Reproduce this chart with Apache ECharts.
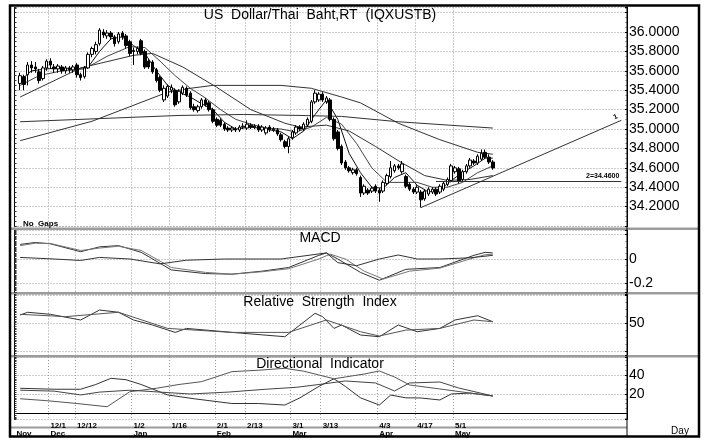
<!DOCTYPE html>
<html>
<head>
<meta charset="utf-8">
<script src="https://cdn.jsdelivr.net/npm/echarts@6/dist/echarts.min.js"></script>
<style>
html, body { margin: 0; padding: 0; background: #fff; }
#chart { width: 707px; height: 442px; }
</style>
</head>
<body>
<div id="chart"></div>
<script>
// trading days (weekdays) from 20 Nov, axis runs on past the last bar
var days = [];
var d = new Date(2006, 10, 20);
while (days.length < 162) {
    if (d.getDay() != 0 && d.getDay() != 6) days.push((d.getMonth() + 1) + '/' + d.getDate());
    d.setDate(d.getDate() + 1);
}
var tickDays = ['12/1', '12/12', '1/2', '1/16', '2/1', '2/13', '3/1', '3/13', '4/3', '4/17', '5/1'];
var monthOf = {'12/1': 'Dec', '1/2': 'Jan', '2/1': 'Feb', '3/1': 'Mar', '4/3': 'Apr', '5/1': 'May'};

// [open, close, low, high]
var ohlc = ['-',
    [35.47, 35.55, 35.40, 35.58], [35.54, 35.46, 35.40, 35.56], [35.56, 35.66, 35.45, 35.69], [35.66, 35.63, 35.58, 35.70],
    [35.64, 35.62, 35.58, 35.69], [35.59, 35.50, 35.47, 35.62], [35.52, 35.63, 35.50, 35.65], [35.63, 35.70, 35.60, 35.72],
    [35.70, 35.66, 35.62, 35.73], [35.64, 35.62, 35.58, 35.67], [35.62, 35.65, 35.58, 35.67], [35.64, 35.60, 35.57, 35.66],
    [35.60, 35.63, 35.57, 35.65], [35.63, 35.61, 35.58, 35.65], [35.61, 35.64, 35.58, 35.66], [35.66, 35.56, 35.53, 35.68],
    [35.56, 35.53, 35.50, 35.58], [35.54, 35.63, 35.52, 35.65], [35.63, 35.77, 35.62, 35.79], [35.77, 35.83, 35.74, 35.85],
    [35.80, 35.87, 35.77, 35.90], [35.88, 36.02, 35.86, 36.04], [36.00, 35.97, 35.94, 36.03], [35.96, 35.99, 35.93, 36.02],
    [35.99, 35.95, 35.92, 36.01], [35.95, 35.88, 35.85, 35.97], [35.90, 35.98, 35.88, 36.00], [35.99, 35.95, 35.92, 36.01],
    [35.96, 35.86, 35.83, 35.98], [35.90, 35.78, 35.75, 35.92], [35.81, 35.80, 35.66, 35.84], [35.80, 35.83, 35.77, 35.85],
    [35.91, 35.78, 35.76, 35.93], [35.80, 35.64, 35.62, 35.82], [35.70, 35.64, 35.62, 35.72], [35.69, 35.59, 35.57, 35.71],
    [35.61, 35.50, 35.48, 35.63], [35.53, 35.40, 35.38, 35.55], [35.30, 35.42, 35.28, 35.45], [35.34, 35.44, 35.32, 35.46],
    [35.40, 35.43, 35.37, 35.46], [35.40, 35.25, 35.23, 35.42], [35.28, 35.39, 35.26, 35.41], [35.37, 35.43, 35.35, 35.45],
    [35.42, 35.35, 35.33, 35.44], [35.37, 35.22, 35.20, 35.39], [35.23, 35.20, 35.18, 35.26], [35.19, 35.23, 35.17, 35.25],
    [35.23, 35.30, 35.21, 35.32], [35.30, 35.25, 35.23, 35.32], [35.27, 35.20, 35.18, 35.29], [35.20, 35.08, 35.06, 35.22],
    [35.10, 35.04, 35.02, 35.12], [35.09, 35.04, 35.02, 35.11], [35.05, 35.00, 34.98, 35.07], [35.01, 34.99, 34.97, 35.03],
    [34.99, 35.01, 34.97, 35.03], [35.00, 34.99, 34.97, 35.02], [34.99, 35.02, 34.97, 35.04], [35.02, 35.03, 35.00, 35.06],
    [35.01, 35.05, 34.99, 35.09], [35.04, 35.02, 35.00, 35.06], [35.02, 35.03, 35.00, 35.05], [35.03, 34.99, 34.97, 35.05],
    [34.99, 35.02, 34.97, 35.04], [34.96, 35.01, 34.94, 35.03], [35.02, 34.99, 34.97, 35.04], [34.99, 35.00, 34.97, 35.02],
    [34.99, 34.95, 34.93, 35.01], [34.94, 34.89, 34.87, 34.96], [34.87, 34.82, 34.80, 34.89], [34.82, 34.90, 34.75, 34.92],
    [34.91, 34.97, 34.89, 34.99], [34.96, 35.02, 34.94, 35.04], [35.02, 35.00, 34.98, 35.04], [35.00, 35.05, 34.98, 35.07],
    [35.04, 35.10, 35.02, 35.12], [35.08, 35.28, 35.06, 35.30], [35.28, 35.37, 35.26, 35.40], [35.30, 35.36, 35.28, 35.38],
    [35.36, 35.30, 35.28, 35.38], [35.28, 35.32, 35.26, 35.34], [35.30, 35.10, 35.08, 35.32], [35.10, 34.90, 34.88, 35.12],
    [34.97, 34.80, 34.78, 34.99], [34.82, 34.65, 34.63, 34.84], [34.66, 34.60, 34.58, 34.68], [34.60, 34.57, 34.55, 34.62],
    [34.55, 34.58, 34.53, 34.60], [34.58, 34.54, 34.52, 34.60], [34.50, 34.34, 34.30, 34.52], [34.34, 34.41, 34.32, 34.43],
    [34.37, 34.34, 34.32, 34.39], [34.36, 34.39, 34.34, 34.41], [34.41, 34.36, 34.34, 34.43], [34.37, 34.34, 34.25, 34.39],
    [34.36, 34.45, 34.34, 34.47], [34.44, 34.52, 34.42, 34.54], [34.51, 34.60, 34.49, 34.67], [34.57, 34.62, 34.55, 34.64],
    [34.62, 34.60, 34.58, 34.64], [34.56, 34.64, 34.54, 34.67], [34.51, 34.41, 34.39, 34.53], [34.43, 34.38, 34.36, 34.45],
    [34.38, 34.35, 34.33, 34.40], [34.35, 34.40, 34.33, 34.42], [34.35, 34.27, 34.19, 34.37], [34.28, 34.36, 34.26, 34.38],
    [34.33, 34.38, 34.31, 34.40], [34.35, 34.38, 34.33, 34.40], [34.38, 34.33, 34.31, 34.40], [34.35, 34.41, 34.33, 34.43],
    [34.38, 34.44, 34.36, 34.46], [34.43, 34.48, 34.41, 34.50], [34.47, 34.62, 34.45, 34.64], [34.56, 34.60, 34.54, 34.62],
    [34.59, 34.46, 34.44, 34.61], [34.48, 34.56, 34.46, 34.58], [34.56, 34.62, 34.54, 34.64], [34.62, 34.68, 34.60, 34.70],
    [34.67, 34.65, 34.63, 34.69], [34.65, 34.72, 34.63, 34.74], [34.69, 34.75, 34.67, 34.79], [34.76, 34.71, 34.69, 34.79],
    [34.71, 34.66, 34.64, 34.74], [34.66, 34.599, 34.58, 34.68]
];

// moving averages as [day index, value]
var maShort = [[1, 35.50], [4, 35.60], [8, 35.62], [12, 35.63], [16, 35.62], [19, 35.64], [22, 35.80], [25, 35.93], [28, 35.95],
    [31, 35.86], [34, 35.78], [37, 35.60], [40, 35.45], [43, 35.38], [46, 35.33], [49, 35.26], [52, 35.20], [55, 35.07],
    [58, 35.00], [62, 35.02], [66, 35.00], [70, 34.97], [73, 34.90], [76, 34.98], [79, 35.15], [82, 35.30], [85, 35.10],
    [88, 34.75], [91, 34.55], [94, 34.40], [97, 34.39], [100, 34.50], [103, 34.55], [106, 34.42], [109, 34.35], [112, 34.37],
    [115, 34.47], [118, 34.55], [121, 34.62], [124, 34.70], [126, 34.70]];
var maMid = [[1, 35.45], [6, 35.55], [12, 35.60], [18, 35.62], [24, 35.75], [30, 35.85], [34, 35.84], [38, 35.70], [42, 35.55],
    [46, 35.42], [50, 35.32], [54, 35.20], [58, 35.10], [62, 35.05], [66, 35.01], [70, 35.00], [74, 34.97], [78, 35.02],
    [82, 35.12], [86, 35.05], [90, 34.85], [94, 34.60], [98, 34.45], [102, 34.45], [106, 34.45], [110, 34.40], [114, 34.40],
    [118, 34.45], [122, 34.55], [126, 34.62]];
var ma50 = [[1, 35.33], [17, 35.63], [31, 35.76], [36, 35.78], [44, 35.64], [53, 35.43], [62, 35.20], [71, 35.06], [75, 35.02],
    [82, 35.04], [88, 34.98], [95, 34.82], [102, 34.65], [108, 34.52], [114, 34.47], [120, 34.48], [126, 34.52]];
var ma100 = [[1, 34.88], [20, 35.08], [40, 35.38], [46, 35.42], [52, 35.45], [70, 35.45], [78, 35.42], [86, 35.33], [91, 35.27],
    [101, 35.06], [112, 34.89], [122, 34.76], [126, 34.74]];
var ma200 = [[1, 35.075], [43, 35.14], [60, 35.15], [75, 35.14], [86, 35.13], [101, 35.075], [126, 35.01]];

// trend lines drawn on the price panel
var trend1 = [[107, 34.19], [160, 35.09]];
var trend2 = [[111, 34.46], [160, 34.46]];
var lastPrice = 34.599;

var macd = [[1, 0.12], [5, 0.136], [9, 0.125], [17, 0.06], [22, 0.10], [27, 0.11], [33, 0.055], [41, -0.09], [50, -0.12],
    [57, -0.125], [65, -0.10], [72, -0.07], [80, 0.03], [82, 0.05], [85, 0.0], [91, -0.11], [96, -0.175], [103, -0.085],
    [112, -0.07], [121, 0.03], [124, 0.055], [126, 0.05]];
var macdSignal = [[1, 0.11], [5, 0.13], [9, 0.128], [17, 0.07], [22, 0.09], [27, 0.105], [33, 0.07], [41, -0.07], [50, -0.11],
    [57, -0.125], [65, -0.105], [72, -0.08], [80, 0.0], [83, 0.04], [87, 0.0], [92, -0.10], [97, -0.165], [104, -0.10],
    [112, -0.075], [121, 0.01], [124, 0.035], [126, 0.04]];
var macdDiff = [[1, 0.013], [10, 0.0], [17, -0.012], [22, 0.013], [30, 0.0], [38, -0.04], [45, -0.01], [55, 0.0], [70, 0.0],
    [82, 0.05], [85, -0.03], [90, -0.055], [96, 0.0], [101, 0.033], [106, 0.0], [112, 0.0], [120, 0.01], [126, 0.03]];

var rsi = [[1, 64.6], [3, 69.4], [9, 65.8], [17, 55.8], [22, 73.4], [27, 69.4], [31, 55.8], [36, 47], [42, 34], [45, 41],
    [53, 36.4], [57, 34], [71, 26.4], [75, 47], [79, 67.6], [81, 61.7], [84, 41], [86, 47], [91, 29.4], [96, 26.4],
    [101, 47], [106, 35.2], [112, 41], [116, 55.8], [122, 63.4], [126, 52.8]];
var rsiAvg = [[1, 65.8], [13, 61.7], [27, 69.4], [40, 41], [57, 34], [72, 34], [82, 55.8], [91, 35.2], [96, 27.6],
    [103, 38], [112, 41], [121, 55.8], [126, 52.8]];

var diPlus = [[1, 26], [10, 25], [17, 25], [21, 30], [25, 36.5], [29, 35], [33, 30], [40, 19], [47, 15], [57, 10], [64, 10],
    [71, 8.4], [75, 16], [80, 28], [84, 36], [87, 28], [91, 16], [96, 8.4], [99, 18.9], [103, 16], [107, 15.8], [112, 13.7],
    [115, 20], [120, 21], [126, 17.9]];
var diMinus = [[1, 15], [8, 13], [16, 10], [24, 6.6], [30, 22.4], [37, 26], [43, 30], [49, 33], [57, 43.5], [64, 45],
    [71, 47], [76, 44], [80, 40], [84, 36], [87, 37.9], [92, 41], [96, 44.2], [100, 37.9], [104, 29.5], [112, 25.3],
    [120, 21], [126, 17.9]];
var adx = [[1, 24], [10, 23], [17, 19], [22, 22], [30, 24], [38, 22], [46, 20], [56, 22], [66, 25], [74, 27], [80, 30],
    [87, 33.7], [95, 31.6], [100, 23.2], [104, 31.6], [112, 32.6], [117, 26.3], [126, 17.9]];

var chart = echarts.init(document.getElementById('chart'), null, {renderer: 'canvas'});

var font = 'Liberation Sans';
var gridDot = {show: true, lineStyle: {color: '#9a9a9a', width: 1, type: [1, 2]}};
var panels = [
    {top: 7.5, height: 219.2, min: 33.993, max: 36.253, split: 11},
    {top: 230.5, height: 61.5, min: -0.2716, max: 0.2346, split: 3},
    {top: 294.5, height: 60.5, min: -5.8, max: 100.7, split: 2},
    {top: 357, height: 62.3, min: -6.6, max: 58.9, split: 3}
];

function isTick(index, value) {
    return tickDays.indexOf(value) >= 0;
}

var grids = [], xAxes = [], yAxes = [];
panels.forEach(function (p, i) {
    grids.push({left: 14.5, right: 80, top: p.top, height: p.height});
    xAxes.push({
        type: 'category', gridIndex: i, data: days, boundaryGap: true,
        axisLine: {show: i == 3, lineStyle: {color: '#000'}},
        axisTick: {show: false},
        splitLine: {show: true, interval: isTick, lineStyle: gridDot.lineStyle},
        axisLabel: i == 3 ? {
            show: true, interval: function (index, value) { return index == 0 || isTick(index, value); },
            formatter: function (value, index) {
                if (index == 0) return ' \nNov';
                return value + '\n' + (monthOf[value] || '');
            },
            align: 'left', margin: 2, fontSize: 8, lineHeight: 8.5, fontWeight: 'bold',
            fontFamily: font, color: '#000'
        } : {show: false}
    });
    yAxes.push({
        type: 'value', gridIndex: i, position: 'right', min: p.min, max: p.max, splitNumber: p.split,
        axisLine: {show: true, lineStyle: {color: '#000'}},
        axisTick: {show: true, inside: true, length: 2, lineStyle: {color: '#000'}},
        minorTick: {show: true, splitNumber: 4, length: 1.5, lineStyle: {color: '#555'}},
        splitLine: gridDot,
        axisLabel: {
            show: true, margin: 2, fontSize: 14, fontFamily: font, color: '#000',
            formatter: [
                function (v) { return (v > 36.1 || v < 34.1) ? '' : v.toFixed(4); },
                function (v) { return Math.abs(v) < 1e-9 ? '0' : (v < -0.1 && v > -0.3 ? '-0.2' : ''); },
                function (v) { return v == 50 ? '50' : ''; },
                function (v) { return (v == 20 || v == 40) ? String(v) : ''; }
            ][i]
        }
    });
});
// left edge with small tick marks
panels.forEach(function (p, i) {
    yAxes.push({
        type: 'value', gridIndex: i, position: 'left', min: p.min, max: p.max, splitNumber: 40,
        axisLine: {show: true, lineStyle: {color: '#000'}},
        axisTick: {show: true, inside: true, length: 2, lineStyle: {color: '#333'}},
        splitLine: {show: false}, axisLabel: {show: false}
    });
});

function line(data, xi, color, width) {
    return {
        type: 'line', xAxisIndex: xi, yAxisIndex: xi, data: data, showSymbol: false, silent: true,
        lineStyle: {color: color, width: width || 1}, z: 3
    };
}

var markStyle = {color: '#333', width: 1, type: 'solid'};
var series = [
    {
        type: 'candlestick', xAxisIndex: 0, yAxisIndex: 0, data: ohlc, barWidth: 3, z: 4,
        itemStyle: {color: '#fff', color0: '#000', borderColor: '#000', borderColor0: '#000', borderWidth: 1},
        markLine: {
            silent: true, animation: false, symbol: ['none', 'none'],
            data: [
                [{coord: trend1[0], lineStyle: markStyle},
                 {coord: trend1[1], label: {show: true, formatter: '1', position: 'insideEndTop', distance: 2,
                     fontSize: 7, fontWeight: 'bold', color: '#000', fontFamily: font}}],
                [{coord: trend2[0], lineStyle: markStyle},
                 {coord: trend2[1], label: {show: true, formatter: '2=34.4600', position: 'insideEndTop', distance: 2,
                     fontSize: 7, fontWeight: 'bold', color: '#000', fontFamily: font}}],
                {yAxis: lastPrice, lineStyle: {opacity: 0},
                 label: {show: true, position: 'end', distance: 1, formatter: lastPrice.toFixed(4),
                     backgroundColor: '#000', color: '#fff', fontSize: 14, fontFamily: font, padding: [2, 3, 1, 2]}}
            ]
        }
    },
    line(maShort, 0, '#111'),
    line(maMid, 0, '#444'),
    line(ma50, 0, '#333'),
    line(ma100, 0, '#333'),
    line(ma200, 0, '#333'),
    line(macd, 1, '#333'), line(macdSignal, 1, '#777'), line(macdDiff, 1, '#333'),
    line(rsi, 2, '#333'), line(rsiAvg, 2, '#555'),
    line(diPlus, 3, '#333'), line(diMinus, 3, '#555'), line(adx, 3, '#444')
];

var txt = function (x, y, s, size, weight, align) {
    return {type: 'text', x: x, y: y, silent: true, z: 10,
        style: {text: s, fill: '#000', font: (weight || 'normal') + ' ' + size + 'px "' + font + '"',
            textAlign: align || 'center', textVerticalAlign: 'middle'}};
};

chart.setOption({
    animation: false,
    backgroundColor: '#fff',
    grid: grids,
    xAxis: xAxes,
    yAxis: yAxes,
    series: series,
    graphic: [
        // panel separators
        {type: 'rect', shape: {x: 10, y: 227.5, width: 690, height: 2.5}, style: {fill: '#9c9c9c'}, silent: true},
        {type: 'rect', shape: {x: 10, y: 292, width: 690, height: 2.5}, style: {fill: '#9c9c9c'}, silent: true},
        {type: 'rect', shape: {x: 10, y: 355, width: 690, height: 2.5}, style: {fill: '#9c9c9c'}, silent: true},
        {type: 'rect', shape: {x: 10, y: 426.5, width: 617, height: 2}, style: {fill: '#9c9c9c'}, silent: true},
        {type: 'line', shape: {x1: 627, y1: 5, x2: 627, y2: 437}, style: {stroke: '#000', lineWidth: 1}, silent: true},
        {type: 'rect', shape: {x: 10, y: 5.5, width: 689, height: 431}, style: {fill: null, stroke: '#000', lineWidth: 2.5}, silent: true, z: 20},
        txt(320, 15, 'US  Dollar/Thai  Baht,RT  (IQXUSTB)', 14),
        txt(320, 238.5, 'MACD', 14),
        txt(320, 302, 'Relative  Strength  Index', 14),
        txt(320, 364, 'Directional  Indicator', 14),
        txt(23, 223.5, 'No  Gaps', 8, 'bold', 'left'),
        txt(680, 431, 'Day', 10)
    ]
});
</script>
</body>
</html>
